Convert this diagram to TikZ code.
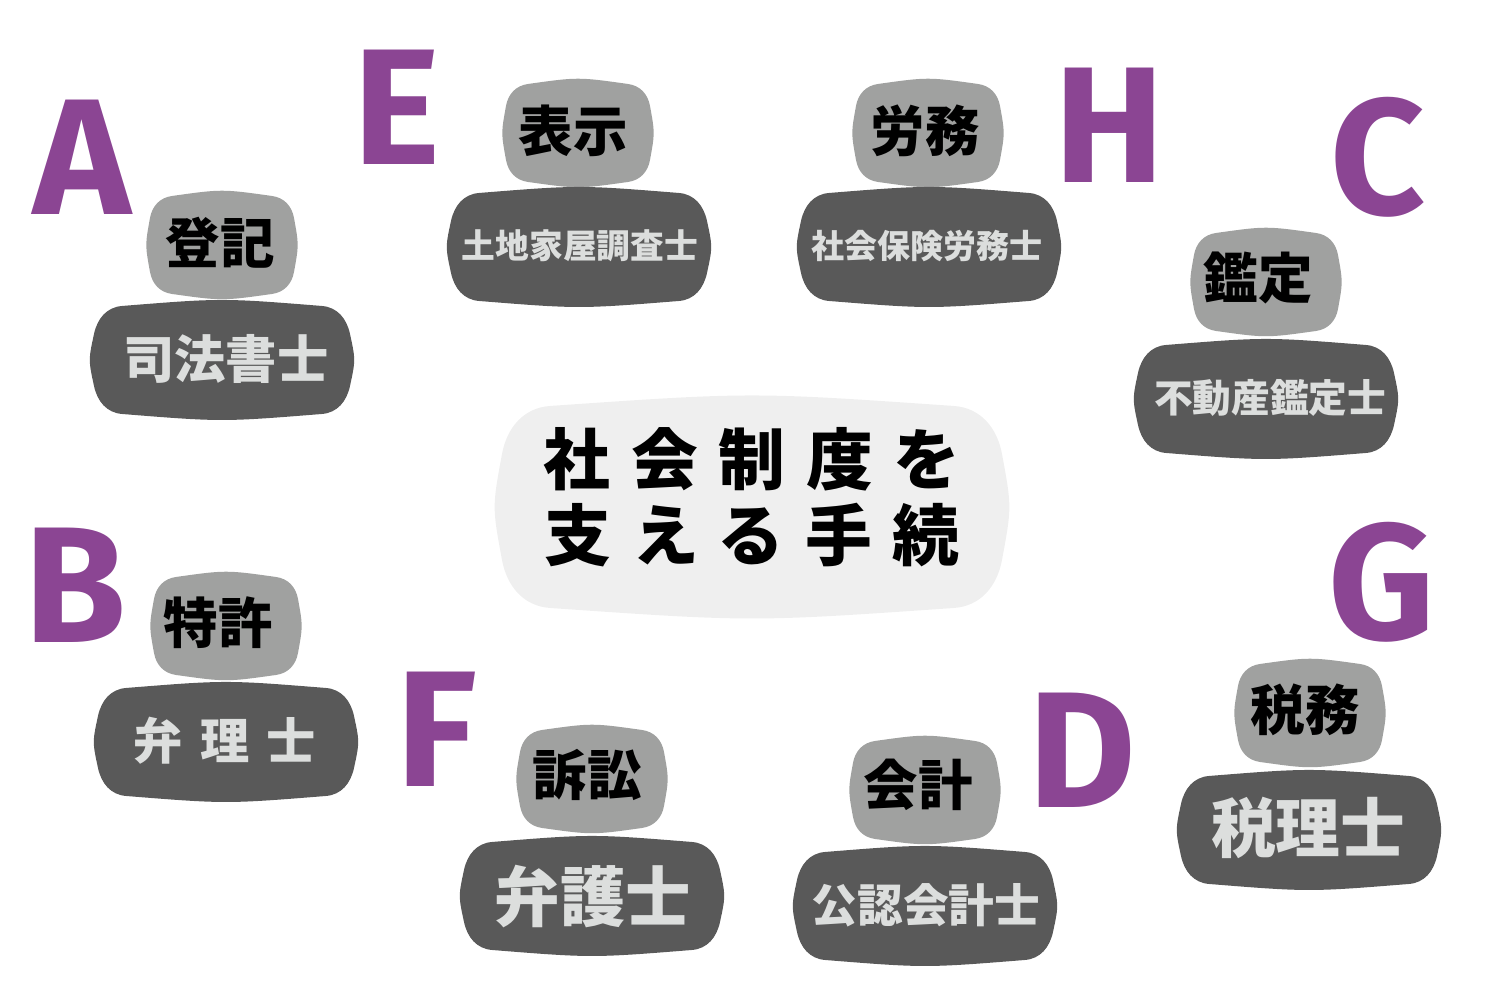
\documentclass[tikz,border=0pt]{standalone}
\usepackage{fontspec}
\usepackage{xcolor}
\usepackage{tikz}
\newfontfamily\jp{Noto Sans CJK JP}
\newfontfamily\jpspaced{Noto Sans CJK JP}[LetterSpace=31]
\newfontfamily\jpwide{Noto Sans CJK JP}[LetterSpace=35]
\newfontfamily\markfont{Fira Sans}
\definecolor{markPurple}{RGB}{139,69,147}
\definecolor{jobGrey}{RGB}{89,89,89}
\definecolor{tagGrey}{RGB}{160,161,160}
\definecolor{hubGrey}{RGB}{239,239,239}
\definecolor{jobText}{RGB}{220,222,221}
\newcommand\bsize[1]{\fontsize{#1}{#1}\selectfont}
% cushion: centre, half width, half height, corner radius, bulge, colour
\newcommand\cushion[6]{%
  \pgfmathsetmacro\cuW{#2}\pgfmathsetmacro\cuH{#3}\pgfmathsetmacro\cuR{#4}
  \pgfmathsetmacro\cuB{#5}\pgfmathsetmacro\cuS{0.7*#5}
  \pgfmathsetmacro\cuA{0.55*\cuR}
  \pgfmathsetmacro\cuT{\cuA*\cuB/(\cuW-\cuR)}
  \pgfmathsetmacro\cuX{\cuA*\cuS/(\cuH-\cuR)}
  \fill[#6, shift={#1}] (-\cuW+\cuR,\cuH) .. controls (0,\cuH+\cuB) .. (\cuW-\cuR,\cuH)
    .. controls (\cuW-\cuR+\cuA,\cuH-\cuT) and (\cuW-\cuX,\cuH-\cuR+\cuA) .. (\cuW,\cuH-\cuR)
    .. controls (\cuW+\cuS,0) .. (\cuW,-\cuH+\cuR)
    .. controls (\cuW-\cuX,-\cuH+\cuR-\cuA) and (\cuW-\cuR+\cuA,-\cuH+\cuT) .. (\cuW-\cuR,-\cuH)
    .. controls (0,-\cuH-\cuB) .. (-\cuW+\cuR,-\cuH)
    .. controls (-\cuW+\cuR-\cuA,-\cuH+\cuT) and (-\cuW+\cuX,-\cuH+\cuR-\cuA) .. (-\cuW,-\cuH+\cuR)
    .. controls (-\cuW-\cuS,0) .. (-\cuW,\cuH-\cuR)
    .. controls (-\cuW+\cuX,\cuH-\cuR+\cuA) and (-\cuW+\cuR-\cuA,\cuH-\cuT) .. cycle;}
\tikzset{
  letter/.style={text=markPurple, font=\markfont\bfseries\bsize{47}, anchor=base, inner sep=0pt},
  tagtext/.style={text=black, font=\jp\bfseries\bsize{15.5}, inner sep=0pt},
  jobtext/.style={text=jobText, inner sep=0pt}
}
\begin{document}
\begin{tikzpicture}[]
    \useasboundingbox (0,0) rectangle (15,10);

    % draw the centre
    \cushion{(7.52,4.93)}{2.50}{1.01}{0.48}{0.14}{hubGrey}
    \node[align=center, font=\jpspaced\bfseries\fontsize{19}{21.6}\selectfont] (hub) at (7.52,5.03) {社会制度を\\支える手続};

    % draw the tag boxes
    \cushion{(2.22,7.55)}{0.72}{0.49}{0.22}{0.07}{tagGrey}
    \cushion{(5.78,8.67)}{0.72}{0.49}{0.22}{0.07}{tagGrey}
    \cushion{(9.28,8.67)}{0.72}{0.49}{0.22}{0.07}{tagGrey}
    \cushion{(12.66,7.18)}{0.72}{0.49}{0.22}{0.07}{tagGrey}
    \cushion{(2.26,3.74)}{0.72}{0.49}{0.22}{0.07}{tagGrey}
    \cushion{(5.92,2.21)}{0.72}{0.49}{0.22}{0.07}{tagGrey}
    \cushion{(9.25,2.10)}{0.72}{0.49}{0.22}{0.07}{tagGrey}
    \cushion{(13.10,2.87)}{0.72}{0.49}{0.22}{0.07}{tagGrey}

    % draw the job boxes
    \cushion{(2.22,6.40)}{1.28}{0.54}{0.28}{0.08}{jobGrey}
    \cushion{(5.79,7.53)}{1.28}{0.54}{0.28}{0.08}{jobGrey}
    \cushion{(9.29,7.53)}{1.28}{0.54}{0.28}{0.08}{jobGrey}
    \cushion{(12.66,6.01)}{1.28}{0.54}{0.28}{0.08}{jobGrey}
    \cushion{(2.26,2.58)}{1.28}{0.54}{0.28}{0.08}{jobGrey}
    \cushion{(5.92,1.04)}{1.28}{0.54}{0.28}{0.08}{jobGrey}
    \cushion{(9.25,0.94)}{1.28}{0.54}{0.28}{0.08}{jobGrey}
    \cushion{(13.09,1.70)}{1.28}{0.54}{0.28}{0.08}{jobGrey}

    % draw tag texts
    \node[tagtext] (tagA) at (2.20,7.57) {登記};
    \node[tagtext] (tagE) at (5.73,8.69) {表示};
    \node[tagtext] (tagH) at (9.25,8.69) {労務};
    \node[tagtext] (tagC) at (12.58,7.22) {鑑定};
    \node[tagtext] (tagB) at (2.18,3.77) {特許};
    \node[tagtext] (tagF) at (5.87,2.25) {訴訟};
    \node[tagtext] (tagD) at (9.18,2.15) {会計};
    \node[tagtext] (tagG) at (13.05,2.90) {税務};

    % draw job texts
    \node[jobtext, font=\jp\bfseries\bsize{14.6}] (jobA) at (2.26,6.41) {司法書士};
    \node[jobtext, font=\jp\bfseries\bsize{9.6}] (jobE) at (5.80,7.54) {土地家屋調査士};
    \node[jobtext, font=\jp\bfseries\bsize{9.4}] (jobH) at (9.27,7.54) {社会保険労務士};
    \node[jobtext, font=\jp\bfseries\bsize{11}] (jobC) at (12.70,6.02) {不動産鑑定士};
    \node[jobtext, font=\jpwide\bfseries\bsize{14}] (jobB) at (2.25,2.59) {弁理士};
    \node[jobtext, font=\jp\bfseries\bsize{18.6}] (jobF) at (5.93,1.03) {弁護士};
    \node[jobtext, font=\jp\bfseries\bsize{13}] (jobD) at (9.26,0.95) {公認会計士};
    \node[jobtext, font=\jp\bfseries\bsize{18.4}] (jobG) at (13.08,1.72) {税理士};

    % draw letters
    \node[letter] (markA) at (0.82,7.85) {A};
    \node[letter] (markE) at (3.97,8.35) {E};
    \node[letter] (markH) at (11.10,8.17) {H};
    \node[letter] (markC) at (13.78,7.85) {C};
    \node[letter] (markB) at (0.75,3.57) {B};
    \node[letter] (markG) at (13.82,3.60) {G};
    \node[letter] (markF) at (4.37,2.13) {F};
    \node[letter] (markD) at (10.82,1.92) {D};
\end{tikzpicture}
\end{document}
